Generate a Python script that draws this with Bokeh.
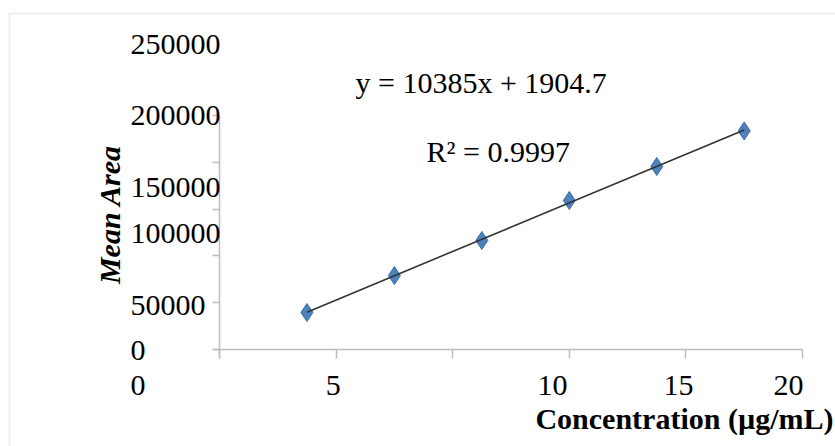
import numpy as np
from bokeh.plotting import figure
from bokeh.models import Range1d, LinearAxis, FixedTicker, BoxAnnotation
from bokeh.core.properties import value
from bokeh.embed import file_html
from bokeh.resources import INLINE

# ---- data ----
conc = [3, 6, 9, 12, 15, 18]                                  # µg/mL
mean_area = [31600, 63200, 93200, 127400, 156400, 186800]

x_ticks = [0, 4, 8, 12, 16, 20]
y_ticks = [0, 40000, 80000, 120000, 160000, 200000]

# tick labels as printed (misplaced in the original figure)
x_label_text = ["0", "5", "10", "15", "20"]
x_label_at = [-2.8, 3.9, 11.42, 15.75, 19.52]
y_label_text = ["0", "50000", "100000", "150000", "200000", "250000"]
y_label_at = [-900, 37600, 99100, 138500, 200000, 260700]

equation_text = "y = 10385x + 1904.7"
r2_text = "R\u00b2 = 0.9997"
x_title = "Concentration (\u00b5g/mL)"
y_title = "Mean Area"

# ---- layout mapping (pixel <-> data) ----
W, H = 835, 446
X0_PX, X_PX_PER_UNIT = 219.0, 29.15
Y0_PX, Y_PX_PER_UNIT = 349.0, 234.0 / 200000.0


def dx(px):
    return (px - X0_PX) / X_PX_PER_UNIT


def dy(py):
    return (Y0_PX - py) / Y_PX_PER_UNIT


FONT = value("Liberation Serif")
AXIS_GRAY = "#bdbdbd"

p = figure(width=W, height=H, min_border=0,
           x_range=Range1d(dx(0), dx(W)), y_range=Range1d(dy(H), dy(0)),
           x_axis_location=None, y_axis_location=None,
           toolbar_location=None, output_backend="svg",
           background_fill_color="white", border_fill_color="white")
p.outline_line_color = None
p.grid.visible = False

# chart-area border (left and top visible)
p.add_layout(BoxAnnotation(left=dx(9), top=dy(13), right=dx(W + 60), bottom=dy(H + 60),
                           fill_alpha=0, line_color="#c6c6c6", line_width=2))

# x axis line + ticks
xa = LinearAxis(fixed_location=0, bounds=(-0.2, 20), ticker=FixedTicker(ticks=x_ticks))
xa.axis_line_color = AXIS_GRAY
xa.axis_line_width = 1.5
xa.major_tick_line_color = AXIS_GRAY
xa.major_tick_line_width = 1.5
xa.major_tick_in = 0
xa.major_tick_out = 9
xa.minor_tick_line_color = None
xa.major_label_text_font_size = "0px"
xa.major_label_text_color = None
p.add_layout(xa, "below")

# y axis line + ticks
ya = LinearAxis(fixed_location=0, bounds=(-8000, 200000), ticker=FixedTicker(ticks=y_ticks))
ya.axis_line_color = AXIS_GRAY
ya.axis_line_width = 1.5
ya.major_tick_line_color = AXIS_GRAY
ya.major_tick_line_width = 1.5
ya.major_tick_in = 0
ya.major_tick_out = 7
ya.minor_tick_line_color = None
ya.major_label_text_font_size = "0px"
ya.major_label_text_color = None
p.add_layout(ya, "left")

# x tick labels (as placed in the original)
xl = LinearAxis(fixed_location=0, ticker=FixedTicker(ticks=x_label_at),
                major_label_overrides={v: t for v, t in zip(x_label_at, x_label_text)})
xl.axis_line_color = None
xl.major_tick_line_color = None
xl.minor_tick_line_color = None
xl.major_tick_in = 0
xl.major_tick_out = 0
xl.major_label_standoff = 26
xl.major_label_text_font = "Liberation Serif"
xl.major_label_text_font_size = "30px"
xl.major_label_text_color = "black"
p.add_layout(xl, "below")

# y tick labels (left aligned column, as in the original)
yl = LinearAxis(fixed_location=dx(125), ticker=FixedTicker(ticks=y_label_at),
                major_label_overrides={v: t for v, t in zip(y_label_at, y_label_text)})
yl.axis_line_color = None
yl.major_tick_line_color = None
yl.minor_tick_line_color = None
yl.major_tick_in = 0
yl.major_tick_out = 0
yl.major_label_standoff = 5
yl.major_label_text_font = "Liberation Serif"
yl.major_label_text_font_size = "30px"
yl.major_label_text_color = "black"
p.add_layout(yl, "right")

# data points
p.scatter(conc, mean_area, marker="diamond", size=18,
          fill_color="#4f81bd", line_color="#3b6aa6", line_width=1)

# linear trendline (least squares on the data)
slope, intercept = np.polyfit(conc, mean_area, 1)
fit_x = [min(conc), max(conc)]
fit_y = [slope * v + intercept for v in fit_x]
p.line(fit_x, fit_y, line_color="#333333", line_width=1.6)

# equation / R² labels
p.text(x=[dx(355)], y=[dy(82)], text=[equation_text], text_font=FONT,
       text_font_size="30px", text_align="left", text_baseline="middle", text_color="black")
p.text(x=[dx(426)], y=[dy(151)], text=[r2_text], text_font=FONT,
       text_font_size="30px", text_align="left", text_baseline="middle", text_color="black")

# axis titles
p.text(x=[dx(833)], y=[dy(418)], text=[x_title], text_font=FONT, text_font_style="bold",
       text_font_size="30px", text_align="right", text_baseline="middle", text_color="black")
p.text(x=[dx(109)], y=[dy(214)], text=[y_title], text_font=FONT, text_font_style="bold italic",
       text_font_size="30px", text_align="center", text_baseline="middle", angle=np.pi / 2,
       text_color="black")

open("out.html", "w").write(file_html(p, INLINE))
